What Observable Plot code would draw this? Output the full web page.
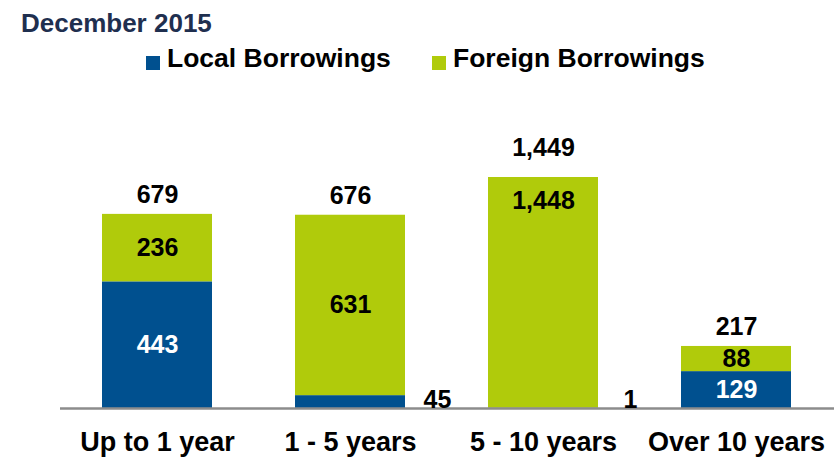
<!DOCTYPE html>
<html>
<head>
<meta charset="utf-8">
<script src="https://cdn.jsdelivr.net/npm/d3@7"></script>
<script src="https://cdn.jsdelivr.net/npm/@observablehq/plot@0.6"></script>
<style>
  body { margin: 0; background: #fff; }
  #wrap { position: relative; width: 834px; height: 457px; overflow: hidden;
          font-family: "Liberation Sans", Arial, sans-serif; font-weight: bold; }
  #title { position: absolute; left: 21px; top: 10px; font-size: 26px; line-height: 26px;
           color: #1F2F4F; white-space: nowrap; }
  .sw { position: absolute; width: 14px; height: 14px; top: 56px; }
  .lt { position: absolute; top: 45px; font-size: 26.5px; line-height: 26px; color: #000; white-space: nowrap; }
  #chart { position: absolute; left: 0; top: 85px; }
  #chart svg g[aria-label="x-axis tick label"] text { font-size: 27px; }
</style>
</head>
<body>
<div id="wrap">
  <div id="title">December 2015</div>
  <div id="legend"></div>
  <div id="chart"></div>
</div>
<script>
const categories = ["Up to 1 year", "1 - 5 years", "5 - 10 years", "Over 10 years"];
const seriesNames = ["Local Borrowings", "Foreign Borrowings"];
const localValues = [443, 45, 1, 129];
const foreignValues = [236, 631, 1448, 88];
const totals = [679, 676, 1449, 217];
const colors = ["#00508F", "#B0CB0B"];
const yMax = 808; // visible top of the value axis (tallest bar is cut off)

const rows = categories.flatMap((c, i) => [
  {cat: c, series: seriesNames[0], value: localValues[i]},
  {cat: c, series: seriesNames[1], value: foreignValues[i]}
]);
const totalRows = categories.map((c, i) => ({cat: c, total: totals[i]}));
const fmt = d3.format(",");

// legend
const legend = document.getElementById("legend");
const swLeft = [146, 432], txtLeft = [167, 453];
seriesNames.forEach((s, i) => {
  const sw = document.createElement("div");
  sw.className = "sw"; sw.style.left = swLeft[i] + "px"; sw.style.background = colors[i];
  const t = document.createElement("div");
  t.className = "lt"; t.style.left = txtLeft[i] + "px"; t.textContent = s;
  legend.appendChild(sw); legend.appendChild(t);
});

const stackOpts = {x: "cat", y: "value", z: "series", order: seriesNames};

const chart = Plot.plot({
  width: 834,
  height: 372,
  marginLeft: 60,
  marginRight: 0,
  marginTop: 92,
  marginBottom: 49,
  style: {fontFamily: '"Liberation Sans", Arial, sans-serif', fontSize: "25px", fontWeight: "bold",
          color: "#000", background: "#fff", overflow: "visible"},
  x: {domain: categories, paddingInner: 0.43, paddingOuter: 0.22, label: null, tickSize: 0, tickPadding: 23},
  y: {domain: [0, yMax], clamp: true, axis: null},
  color: {domain: seriesNames, range: colors},
  marks: [
    Plot.barY(rows, {...stackOpts, fill: "series"}),
    Plot.ruleY([0], {stroke: "#8C8C8C", strokeWidth: 2.5}),
    Plot.text(rows, Plot.stackY({...stackOpts,
      text: d => d.series === seriesNames[0] && d.value >= 50 ? fmt(d.value) : null,
      fill: "#fff"})),
    Plot.text(rows, Plot.stackY({...stackOpts,
      text: d => d.series === seriesNames[1] && d.value >= 50 ? fmt(d.value) : null,
      fill: "#000"})),
    Plot.text(rows, Plot.stackY1({...stackOpts,
      text: d => d.series === seriesNames[0] && d.value < 50 ? fmt(d.value) : null,
      fill: "#000", dx: 87, dy: -9})),
    Plot.text(totalRows, {x: "cat", y: "total", text: d => fmt(d.total), fill: "#000", dy: -19,
      filter: d => d.total <= yMax}),
    Plot.text(totalRows, {x: "cat", y: "total", text: d => fmt(d.total), fill: "#000", dy: -30,
      filter: d => d.total > yMax})
  ]
});
document.getElementById("chart").appendChild(chart);
</script>
</body>
</html>
